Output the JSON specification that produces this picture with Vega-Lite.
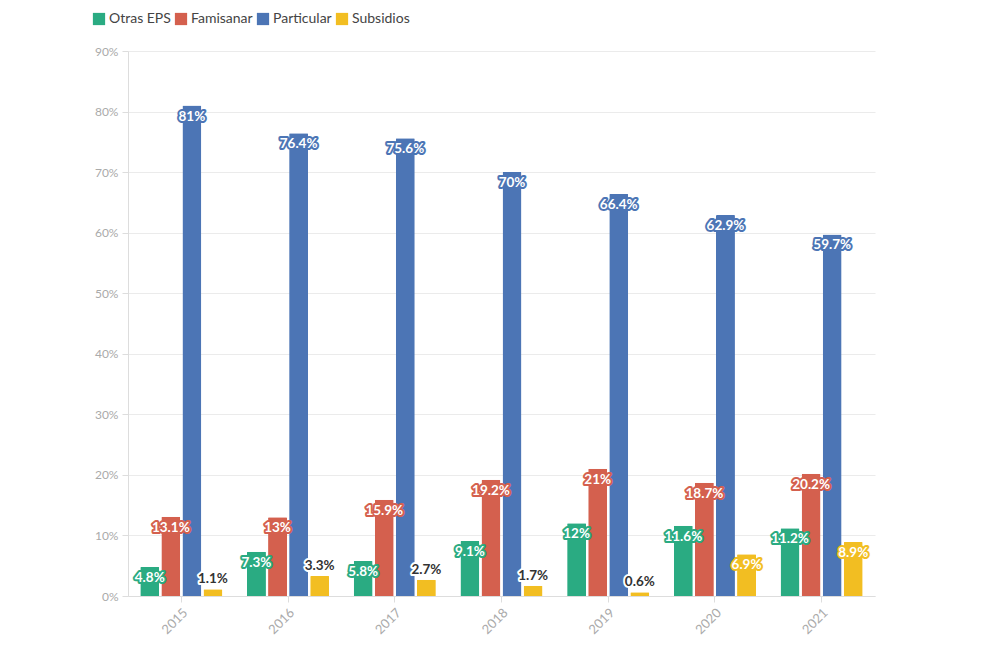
{
  "$schema": "https://vega.github.io/schema/vega-lite/v6.json",
  "width": 747,
  "height": 545,
  "autosize": {"type": "none"},
  "padding": {"left": 128, "top": 51, "right": 109, "bottom": 59},
  "background": "white",
  "config": {
    "view": {"stroke": null},
    "font": "Lato"
  },
  "data": {
    "values": [
      {"anio": "2015", "serie": "Otras EPS", "valor": 0.048},
      {"anio": "2015", "serie": "Famisanar", "valor": 0.131},
      {"anio": "2015", "serie": "Particular", "valor": 0.81},
      {"anio": "2015", "serie": "Subsidios", "valor": 0.011},
      {"anio": "2016", "serie": "Otras EPS", "valor": 0.073},
      {"anio": "2016", "serie": "Famisanar", "valor": 0.13},
      {"anio": "2016", "serie": "Particular", "valor": 0.764},
      {"anio": "2016", "serie": "Subsidios", "valor": 0.033},
      {"anio": "2017", "serie": "Otras EPS", "valor": 0.058},
      {"anio": "2017", "serie": "Famisanar", "valor": 0.159},
      {"anio": "2017", "serie": "Particular", "valor": 0.756},
      {"anio": "2017", "serie": "Subsidios", "valor": 0.027},
      {"anio": "2018", "serie": "Otras EPS", "valor": 0.091},
      {"anio": "2018", "serie": "Famisanar", "valor": 0.192},
      {"anio": "2018", "serie": "Particular", "valor": 0.70},
      {"anio": "2018", "serie": "Subsidios", "valor": 0.017},
      {"anio": "2019", "serie": "Otras EPS", "valor": 0.12},
      {"anio": "2019", "serie": "Famisanar", "valor": 0.21},
      {"anio": "2019", "serie": "Particular", "valor": 0.664},
      {"anio": "2019", "serie": "Subsidios", "valor": 0.006},
      {"anio": "2020", "serie": "Otras EPS", "valor": 0.116},
      {"anio": "2020", "serie": "Famisanar", "valor": 0.187},
      {"anio": "2020", "serie": "Particular", "valor": 0.629},
      {"anio": "2020", "serie": "Subsidios", "valor": 0.069},
      {"anio": "2021", "serie": "Otras EPS", "valor": 0.112},
      {"anio": "2021", "serie": "Famisanar", "valor": 0.202},
      {"anio": "2021", "serie": "Particular", "valor": 0.597},
      {"anio": "2021", "serie": "Subsidios", "valor": 0.089}
    ]
  },
  "encoding": {
    "x": {
      "field": "anio", "type": "nominal",
      "scale": {"paddingInner": 0.23, "paddingOuter": 0.115},
      "axis": {
        "title": null, "labelAngle": -45, "labelColor": "#aaaaaa", "labelFontSize": 13,
        "domainColor": "#dddddd", "tickColor": "#dddddd", "tickSize": 6, "labelPadding": 4, "grid": false
      }
    },
    "xOffset": {
      "field": "serie", "type": "nominal",
      "scale": {"domain": ["Otras EPS", "Famisanar", "Particular", "Subsidios"], "paddingInner": 0.1}
    },
    "y": {
      "field": "valor", "type": "quantitative",
      "scale": {"domain": [0, 0.9], "nice": false},
      "axis": {
        "title": null, "format": ".0%", "values": [0, 0.1, 0.2, 0.3, 0.4, 0.5, 0.6, 0.7, 0.8, 0.9],
        "labelColor": "#aaaaaa", "labelFontSize": 12, "gridColor": "#ebebeb",
        "domainColor": "#dddddd", "tickColor": "#dddddd", "tickSize": 6, "labelPadding": 4
      }
    }
  },
  "layer": [
    {
      "mark": {"type": "bar", "cornerRadiusTopLeft": 1, "cornerRadiusTopRight": 1},
      "encoding": {
        "color": {
          "field": "serie", "type": "nominal",
          "scale": {"domain": ["Otras EPS", "Famisanar", "Particular", "Subsidios"], "range": ["#2aab82", "#d4604e", "#4c75b5", "#f2be22"]},
          "legend": {
            "title": null, "orient": "none", "direction": "horizontal", "legendX": -36, "legendY": -39,
            "labelFontSize": 14, "labelColor": "#444444", "labelFont": "Lato",
            "symbolType": "square", "symbolSize": 150, "symbolStrokeWidth": 0, "symbolOpacity": 1,
            "columnPadding": 3, "labelOffset": 3
          }
        }
      }
    },
    {
      "transform": [{"filter": "datum.valor >= 0.04"}],
      "mark": {"type": "text", "baseline": "middle", "dy": 11, "fontSize": 13.5, "fontWeight": "bold", "strokeWidth": 4, "strokeJoin": "round"},
      "encoding": {
        "text": {"field": "valor", "type": "quantitative", "format": ".1~%"},
        "fill": {"field": "serie", "type": "nominal", "legend": null,
          "scale": {"domain": ["Otras EPS", "Famisanar", "Particular", "Subsidios"], "range": ["#2aab82", "#d4604e", "#4c75b5", "#f2be22"]}},
        "stroke": {"field": "serie", "type": "nominal", "legend": null,
          "scale": {"domain": ["Otras EPS", "Famisanar", "Particular", "Subsidios"], "range": ["#2aab82", "#d4604e", "#4c75b5", "#f2be22"]}}
      }
    },
    {
      "transform": [{"filter": "datum.valor >= 0.04"}],
      "mark": {"type": "text", "baseline": "middle", "dy": 11, "fontSize": 13.5, "fontWeight": "bold", "fill": "white"},
      "encoding": {
        "text": {"field": "valor", "type": "quantitative", "format": ".1~%"}
      }
    },
    {
      "transform": [{"filter": "datum.valor < 0.04"}],
      "mark": {"type": "text", "baseline": "middle", "dy": -10, "fontSize": 13.5, "fontWeight": "bold", "fill": "white", "stroke": "white", "strokeWidth": 4, "strokeJoin": "round"},
      "encoding": {
        "text": {"field": "valor", "type": "quantitative", "format": ".1~%"}
      }
    },
    {
      "transform": [{"filter": "datum.valor < 0.04"}],
      "mark": {"type": "text", "baseline": "middle", "dy": -10, "fontSize": 13.5, "fontWeight": "bold", "fill": "#333333"},
      "encoding": {
        "text": {"field": "valor", "type": "quantitative", "format": ".1~%"}
      }
    }
  ]
}
